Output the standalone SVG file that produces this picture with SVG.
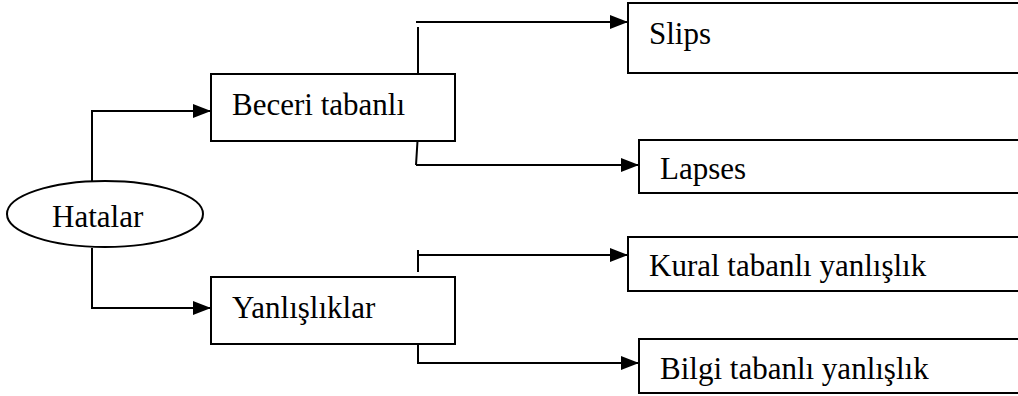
<svg xmlns="http://www.w3.org/2000/svg" width="1018" height="396" viewBox="0 0 1018 396">
  <style>
    .box { fill: #ffffff; stroke: #000000; stroke-width: 2; }
    .lbl { font-family: "Liberation Serif", "Times New Roman", serif; font-size: 31px; fill: #000000; }
    .wire { fill: none; stroke: #000000; stroke-width: 2; }
    .arr { fill: none; stroke: #000000; stroke-width: 2; marker-end: url(#head); }
  </style>
  <defs>
    <marker id="head" markerUnits="userSpaceOnUse" markerWidth="18" markerHeight="14" viewBox="0 0 18 14" refX="18" refY="7" orient="auto">
      <path d="M0,0 L18,7 L0,14 Z" fill="#000000"/>
    </marker>
  </defs>
  <rect width="1018" height="396" fill="#ffffff"/>

  <g id="connectors">
    <path class="arr" d="M92,181 V111 H211"/>
    <path class="arr" d="M92,248 V308 H211"/>
    <path class="wire" d="M418,27 V80"/>
    <path class="arr" d="M416,22 H628"/>
    <path class="wire" d="M418,133 L416,165"/>
    <path class="arr" d="M416,165 H639"/>
    <path class="wire" d="M418,250 V272"/>
    <path class="arr" d="M418,255 H628"/>
    <path class="arr" d="M418,339 V363 H639"/>
  </g>

  <g id="hatalar">
    <ellipse class="box" cx="105" cy="214" rx="98" ry="33"/>
    <text class="lbl" x="52" y="227">Hatalar</text>
  </g>

  <g id="beceri">
    <rect class="box" x="211" y="74" width="244" height="67"/>
    <text class="lbl" x="232" y="115">Beceri tabanlı</text>
  </g>

  <g id="yanlisliklar">
    <rect class="box" x="211" y="277" width="244" height="67"/>
    <text class="lbl" x="232" y="318">Yanlışlıklar</text>
  </g>

  <g id="slips">
    <rect class="box" x="628" y="3" width="400" height="70"/>
    <text class="lbl" x="649" y="44">Slips</text>
  </g>

  <g id="lapses">
    <rect class="box" x="639" y="140" width="400" height="53"/>
    <text class="lbl" x="660" y="179">Lapses</text>
  </g>

  <g id="kural">
    <rect class="box" x="628" y="237" width="400" height="54"/>
    <text class="lbl" x="649" y="276">Kural tabanlı yanlışlık</text>
  </g>

  <g id="bilgi">
    <rect class="box" x="639" y="339" width="400" height="54"/>
    <text class="lbl" x="660" y="379">Bilgi tabanlı yanlışlık</text>
  </g>
</svg>
